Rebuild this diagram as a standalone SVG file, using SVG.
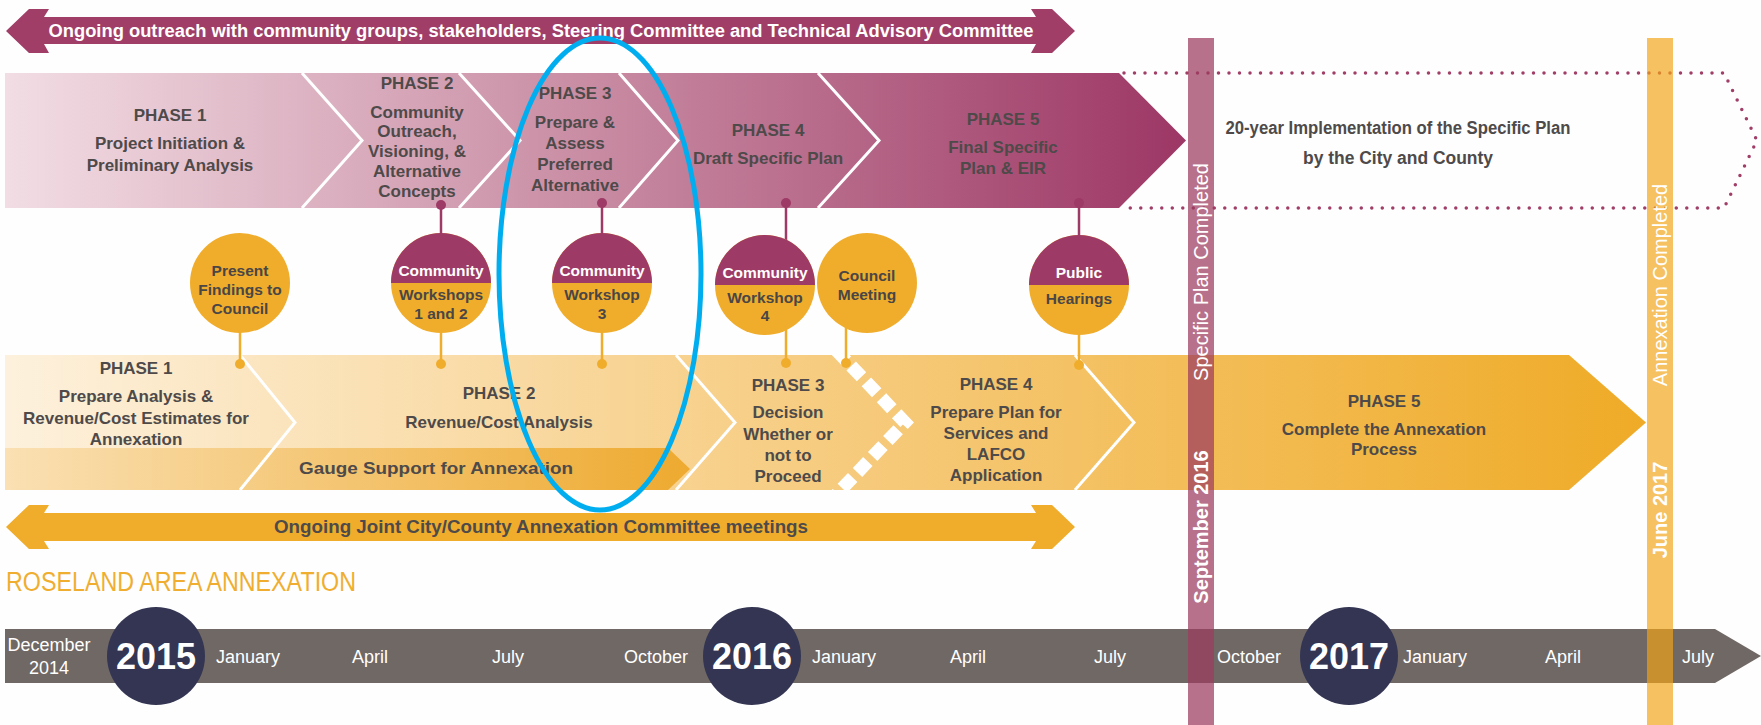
<svg xmlns="http://www.w3.org/2000/svg" width="1761" height="725" viewBox="0 0 1761 725">
<defs>
<linearGradient id="gP" gradientUnits="userSpaceOnUse" x1="5" y1="0" x2="1186" y2="0">
<stop offset="0" stop-color="#f2dde4"/><stop offset="0.5" stop-color="#c88ba2"/><stop offset="1" stop-color="#9d3765"/>
</linearGradient>
<linearGradient id="gO" gradientUnits="userSpaceOnUse" x1="5" y1="0" x2="1646" y2="0">
<stop offset="0" stop-color="#fdf1dd"/><stop offset="0.45" stop-color="#f7cf88"/><stop offset="1" stop-color="#efab27"/>
</linearGradient>
<linearGradient id="gS" gradientUnits="userSpaceOnUse" x1="5" y1="0" x2="690" y2="0">
<stop offset="0" stop-color="#fae0b3"/><stop offset="1" stop-color="#eeaa30"/>
</linearGradient>
<clipPath id="cb"><rect x="5" y="355" width="1700" height="135"/></clipPath>
<style>
.pt{font-family:'Liberation Sans',Arial,sans-serif;font-weight:bold;font-size:17px;fill:#4e4a4a;text-anchor:middle}
.ct{font-family:'Liberation Sans',Arial,sans-serif;font-weight:bold;font-size:15.5px;fill:#4a4646;text-anchor:middle}
.cw{font-family:'Liberation Sans',Arial,sans-serif;font-weight:bold;font-size:15.5px;fill:#ffffff;text-anchor:middle}
.mo{font-family:'Liberation Sans',Arial,sans-serif;font-size:18px;fill:#ffffff;text-anchor:middle}
.yr{font-family:'Liberation Sans',Arial,sans-serif;font-weight:bold;font-size:36px;fill:#ffffff;text-anchor:middle}
.bt{font-family:'Liberation Sans',Arial,sans-serif;font-size:20px;fill:#ffffff;text-anchor:middle}
.bb{font-family:'Liberation Sans',Arial,sans-serif;font-weight:bold;font-size:20px;fill:#ffffff;text-anchor:middle}
.wl{fill:none;stroke:#ffffff;stroke-width:3}
.ps{stroke:#9e3a66;stroke-width:2.5}
.os{stroke:#f0ad2c;stroke-width:2.5}
.pd{fill:#9e3a66}
.od{fill:#f0ad2c}
.oc{fill:#f0ad2c}
.pc{fill:#9e3a66}
.yc{fill:#333552}
</style>
</defs>
<rect x="0" y="0" width="1761" height="725" fill="#fefefe"/>

<g id="outreach-arrow">
<polygon points="6,31 29,9 49,9 44,17 1036,17 1031,9 1052,9 1075,31 1052,53 1031,53 1036,44 44,44 49,53 29,53" fill="#a03e68"/>
<text x="541" y="37" class="pt" style="fill:#ffffff;font-size:17.5px" textLength="985" lengthAdjust="spacingAndGlyphs">Ongoing outreach with community groups, stakeholders, Steering Committee and Technical Advisory Committee</text>
</g>

<g id="specific-plan-band">
<polygon points="5,73 1119,73 1186,140.5 1119,208 5,208" fill="url(#gP)"/>
<polyline class="wl" points="302,73 362,140.5 302,208"/>
<polyline class="wl" points="459,73 520,140.5 459,208"/>
<polyline class="wl" points="619,73 678,140.5 619,208"/>
<polyline class="wl" points="818,73 879,140.5 818,208"/>
</g>
<g id="sp-phase1">
<text class="pt" x="170" y="121">PHASE 1</text>
<text class="pt" x="170" y="149">Project Initiation &amp;</text>
<text class="pt" x="170" y="171">Preliminary Analysis</text>
</g>
<g id="sp-phase2">
<text class="pt" x="417" y="89">PHASE 2</text>
<text class="pt" x="417" y="118">Community</text>
<text class="pt" x="417" y="137">Outreach,</text>
<text class="pt" x="417" y="157">Visioning, &amp;</text>
<text class="pt" x="417" y="177">Alternative</text>
<text class="pt" x="417" y="197">Concepts</text>
</g>
<g id="sp-phase3">
<text class="pt" x="575" y="99">PHASE 3</text>
<text class="pt" x="575" y="128">Prepare &amp;</text>
<text class="pt" x="575" y="149">Assess</text>
<text class="pt" x="575" y="170">Preferred</text>
<text class="pt" x="575" y="191">Alternative</text>
</g>
<g id="sp-phase4">
<text class="pt" x="768" y="136">PHASE 4</text>
<text class="pt" x="768" y="164">Draft Specific Plan</text>
</g>
<g id="sp-phase5">
<text class="pt" x="1003" y="125">PHASE 5</text>
<text class="pt" x="1003" y="153">Final Specific</text>
<text class="pt" x="1003" y="174">Plan &amp; EIR</text>
</g>

<g id="implementation">
<path d="M1124,73 H1724 L1757,140.5 L1724,208 H1124" fill="none" stroke="#a03e68" stroke-width="3.5" stroke-linecap="round" stroke-dasharray="0 10.5"/>
<text class="pt" x="1398" y="134" style="font-size:17.5px" textLength="345" lengthAdjust="spacingAndGlyphs">20-year Implementation of the Specific Plan</text>
<text class="pt" x="1398" y="164" style="font-size:17.5px" textLength="190" lengthAdjust="spacingAndGlyphs">by the City and County</text>
</g>

<g id="annexation-band">
<polygon points="5,355 1569,355 1646,422.5 1569,490 5,490" fill="url(#gO)"/>
<polygon points="5,448 668,448 690,469 668,490 5,490" fill="url(#gS)"/>
<polyline class="wl" points="240,355 295,422.5 240,490"/>
<polyline class="wl" points="676,355 735,422.5 676,490"/>
<polyline class="wl" points="1075,355 1134,422.5 1075,490"/>
<polyline points="836,350 905,422.5 836,495" fill="none" stroke="#ffffff" stroke-width="13" stroke-dasharray="15 7" clip-path="url(#cb)"/>
</g>
<g id="an-phase1">
<text class="pt" x="136" y="374">PHASE 1</text>
<text class="pt" x="136" y="402">Prepare Analysis &amp;</text>
<text class="pt" x="136" y="424">Revenue/Cost Estimates for</text>
<text class="pt" x="136" y="445">Annexation</text>
</g>
<g id="an-phase2">
<text class="pt" x="499" y="399">PHASE 2</text>
<text class="pt" x="499" y="428">Revenue/Cost Analysis</text>
<text class="pt" x="436" y="474" textLength="274" lengthAdjust="spacingAndGlyphs">Gauge Support for Annexation</text>
</g>
<g id="an-phase3">
<text class="pt" x="788" y="391">PHASE 3</text>
<text class="pt" x="788" y="418">Decision</text>
<text class="pt" x="788" y="440">Whether or</text>
<text class="pt" x="788" y="461">not to</text>
<text class="pt" x="788" y="482">Proceed</text>
</g>
<g id="an-phase4">
<text class="pt" x="996" y="390">PHASE 4</text>
<text class="pt" x="996" y="418">Prepare Plan for</text>
<text class="pt" x="996" y="439">Services and</text>
<text class="pt" x="996" y="460">LAFCO</text>
<text class="pt" x="996" y="481">Application</text>
</g>
<g id="an-phase5">
<text class="pt" x="1384" y="407">PHASE 5</text>
<text class="pt" x="1384" y="435">Complete the Annexation</text>
<text class="pt" x="1384" y="455">Process</text>
</g>

<g id="connectors">
<line class="ps" x1="441" y1="205" x2="441" y2="236"/>
<line class="ps" x1="602" y1="203" x2="602" y2="236"/>
<line class="ps" x1="786" y1="203" x2="786" y2="242"/>
<line class="ps" x1="1079" y1="203" x2="1079" y2="237"/>
<circle class="pd" cx="441" cy="205" r="5"/>
<circle class="pd" cx="602" cy="203" r="5"/>
<circle class="pd" cx="786" cy="203" r="5"/>
<circle class="pd" cx="1079" cy="203" r="5"/>
<line class="os" x1="240" y1="330" x2="240" y2="364"/>
<line class="os" x1="441" y1="330" x2="441" y2="364"/>
<line class="os" x1="602" y1="330" x2="602" y2="364"/>
<line class="os" x1="786" y1="328" x2="786" y2="363"/>
<line class="os" x1="846" y1="325" x2="846" y2="363"/>
<line class="os" x1="1079" y1="332" x2="1079" y2="365"/>
<circle class="od" cx="240" cy="364" r="5"/>
<circle class="od" cx="441" cy="364" r="5"/>
<circle class="od" cx="602" cy="364" r="5"/>
<circle class="od" cx="786" cy="363" r="5"/>
<circle class="od" cx="846" cy="363" r="5"/>
<circle class="od" cx="1079" cy="365" r="5"/>
</g>

<g id="m-present-findings">
<circle class="oc" cx="240" cy="283" r="50"/>
<text class="ct" x="240" y="276">Present</text>
<text class="ct" x="240" y="295">Findings to</text>
<text class="ct" x="240" y="314">Council</text>
</g>
<g id="m-workshops-1-2">
<circle class="oc" cx="441" cy="283" r="50"/>
<path class="pc" d="M391,283 A50,50 0 0 1 491,283 Z"/>
<text class="cw" x="441" y="276">Community</text>
<text class="ct" x="441" y="300">Workshops</text>
<text class="ct" x="441" y="319">1 and 2</text>
</g>
<g id="m-workshop-3">
<circle class="oc" cx="602" cy="283" r="50"/>
<path class="pc" d="M552,283 A50,50 0 0 1 652,283 Z"/>
<text class="cw" x="602" y="276">Community</text>
<text class="ct" x="602" y="300">Workshop</text>
<text class="ct" x="602" y="319">3</text>
</g>
<g id="m-workshop-4">
<circle class="oc" cx="765" cy="285" r="50"/>
<path class="pc" d="M715,285 A50,50 0 0 1 815,285 Z"/>
<text class="cw" x="765" y="278">Community</text>
<text class="ct" x="765" y="303">Workshop</text>
<text class="ct" x="765" y="321">4</text>
</g>
<g id="m-council-meeting">
<circle class="oc" cx="867" cy="283" r="50"/>
<text class="ct" x="867" y="281">Council</text>
<text class="ct" x="867" y="300">Meeting</text>
</g>
<g id="m-public-hearings">
<circle class="oc" cx="1079" cy="285" r="50"/>
<path class="pc" d="M1029,285 A50,50 0 0 1 1129,285 Z"/>
<text class="cw" x="1079" y="278">Public</text>
<text class="ct" x="1079" y="304">Hearings</text>
</g>

<g id="committee-arrow">
<polygon points="6,527 29,505 49,505 44,513 1036,513 1031,505 1052,505 1075,527 1052,549 1031,549 1036,541 44,541 49,549 29,549" fill="#f0ad2c"/>
<text class="pt" x="541" y="533" style="font-size:17.5px" textLength="534" lengthAdjust="spacingAndGlyphs">Ongoing Joint City/County Annexation Committee meetings</text>
</g>

<text x="6" y="591" font-family="'Liberation Sans',Arial,sans-serif" font-size="27" fill="#f0ae30" textLength="350" lengthAdjust="spacingAndGlyphs">ROSELAND AREA ANNEXATION</text>

<g id="timeline">
<polygon points="5,629 1715,629 1761,656 1715,683 5,683" fill="#706865"/>
<text class="mo" x="49" y="651">December</text>
<text class="mo" x="49" y="674">2014</text>
<text class="mo" x="248" y="663">January</text>
<text class="mo" x="370" y="663">April</text>
<text class="mo" x="508" y="663">July</text>
<text class="mo" x="656" y="663">October</text>
<text class="mo" x="844" y="663">January</text>
<text class="mo" x="968" y="663">April</text>
<text class="mo" x="1110" y="663">July</text>
<text class="mo" x="1249" y="663">October</text>
<text class="mo" x="1435" y="663">January</text>
<text class="mo" x="1563" y="663">April</text>
<text class="mo" x="1698" y="663">July</text>
</g>
<g id="y2015"><circle class="yc" cx="156" cy="656" r="49"/><text class="yr" x="156" y="669">2015</text></g>
<g id="y2016"><circle class="yc" cx="752" cy="656" r="49"/><text class="yr" x="752" y="669">2016</text></g>
<g id="y2017"><circle class="yc" cx="1349" cy="656" r="49"/><text class="yr" x="1349" y="669">2017</text></g>

<g id="specific-plan-completed">
<rect x="1188" y="38" width="26" height="687" fill="#9c3c5e" fill-opacity="0.73"/>
<text class="bt" transform="translate(1208,272) rotate(-90)">Specific  Plan Completed</text>
<text class="bb" transform="translate(1208,527) rotate(-90)">September 2016</text>
</g>
<g id="annexation-completed">
<rect x="1647" y="38" width="26" height="687" fill="#f2a415" fill-opacity="0.68"/>
<text class="bt" transform="translate(1667,285) rotate(-90)">Annexation Completed</text>
<text class="bb" transform="translate(1667,510) rotate(-90)">June 2017</text>
</g>

<ellipse id="highlight" cx="600" cy="274" rx="101" ry="236" fill="none" stroke="#00aeef" stroke-width="5"/>
</svg>
